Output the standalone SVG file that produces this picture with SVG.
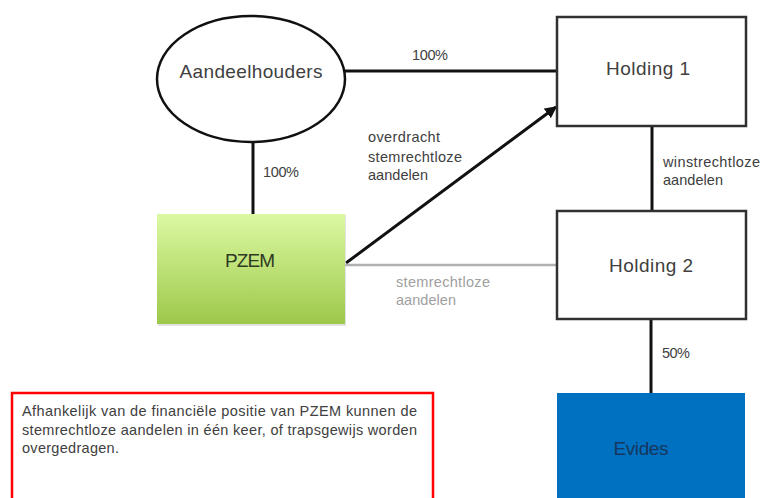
<svg xmlns="http://www.w3.org/2000/svg" width="762" height="498" viewBox="0 0 762 498">
<style>
.big{font-family:"Liberation Sans",Arial,sans-serif;font-size:19px;fill:#404040;text-anchor:middle}
.lbl{font-family:"Liberation Sans",Arial,sans-serif;font-size:14.5px;fill:#404040}
.gray{font-family:"Liberation Sans",Arial,sans-serif;font-size:14.5px;fill:#a0a0a0}
.box{fill:#ffffff;stroke:#303030;stroke-width:2.5}
.conn{stroke:#111111;stroke-width:3;fill:none}
</style>
<defs>
<linearGradient id="green" x1="0" y1="0" x2="0" y2="1">
<stop offset="0" stop-color="#dcf9a2"/>
<stop offset="1" stop-color="#9dc84a"/>
</linearGradient>
<marker id="arr" viewBox="0 0 10 10" refX="9" refY="5" markerWidth="4" markerHeight="4" orient="auto" markerUnits="strokeWidth">
<path d="M0,0 L10,5 L0,10 z" fill="#111111"/>
</marker>
</defs>
<rect width="762" height="498" fill="#ffffff"/>
<g id="connectors">
<line class="conn" x1="345" y1="71" x2="557" y2="71"/>
<line class="conn" x1="253" y1="143" x2="253" y2="214"/>
<line class="conn" x1="346" y1="263" x2="556" y2="107" marker-end="url(#arr)"/>
<line x1="345" y1="265" x2="557" y2="265" stroke="#b0b0b0" stroke-width="2.5"/>
<line class="conn" x1="652" y1="126" x2="652" y2="211"/>
<line class="conn" x1="651" y1="319" x2="651" y2="393"/>
<text class="lbl" x="412" y="60" textLength="36">100%</text>
<text class="lbl" x="263" y="177" textLength="36">100%</text>
<text class="lbl" x="368" y="142" textLength="72">overdracht</text>
<text class="lbl" x="368" y="162" textLength="94">stemrechtloze</text>
<text class="lbl" x="368" y="180" textLength="60">aandelen</text>
<text class="lbl" x="663" y="167" textLength="97">winstrechtloze</text>
<text class="lbl" x="663" y="185" textLength="60">aandelen</text>
<text class="lbl" x="662" y="358" textLength="28">50%</text>
<text class="gray" x="396" y="287" textLength="94">stemrechtloze</text>
<text class="gray" x="396" y="305" textLength="60">aandelen</text>
</g>
<g id="aandeelhouders">
<ellipse cx="251" cy="79" rx="94" ry="63" fill="#ffffff" stroke="#111111" stroke-width="2.5"/>
<text class="big" x="251" y="78" textLength="143">Aandeelhouders</text>
</g>
<g id="holding1">
<rect class="box" x="557" y="17" width="189" height="109"/>
<text class="big" x="648" y="75" textLength="84">Holding 1</text>
</g>
<g id="pzem">
<rect x="158" y="215" width="188" height="111" fill="#c8c8c8" opacity="0.5"/>
<rect x="157" y="214" width="188" height="110" fill="url(#green)"/>
<text class="big" x="250" y="267" style="fill:#2f3a22" textLength="50">PZEM</text>
</g>
<g id="holding2">
<rect class="box" x="557" y="211" width="189" height="108"/>
<text class="big" x="651" y="272" textLength="84">Holding 2</text>
</g>
<g id="evides">
<rect x="557" y="393" width="188" height="110" fill="#0070c0"/>
<text class="big" x="641" y="455" style="fill:#17375e" textLength="55">Evides</text>
</g>
<g id="note">
<rect x="12" y="393" width="421" height="115" fill="#ffffff" stroke="#ff0000" stroke-width="2.5"/>
<text class="lbl" x="22" y="416" textLength="395">Afhankelijk van de financiële positie van PZEM kunnen de</text>
<text class="lbl" x="22" y="435" textLength="395">stemrechtloze aandelen in één keer, of trapsgewijs worden</text>
<text class="lbl" x="22" y="453" textLength="97">overgedragen.</text>
</g>
</svg>
